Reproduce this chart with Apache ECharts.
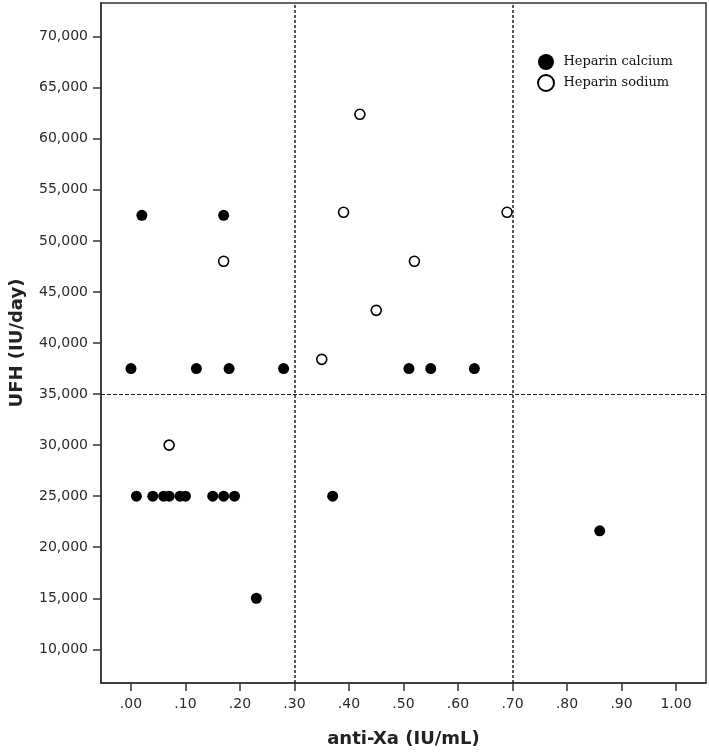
<!DOCTYPE html>
<html>
<head>
<meta charset="utf-8">
<script src="https://cdn.jsdelivr.net/npm/echarts@6/dist/echarts.min.js"></script>
<style>
  html, body { margin: 0; padding: 0; background: #fff; }
  #chart { width: 709px; height: 754px; }
</style>
</head>
<body>
<div id="chart"></div>
<script>
// anti-Xa (IU/mL) vs UFH dose (IU/day)
const calciumX = [0.00, 0.02, 0.17, 0.12, 0.18, 0.28, 0.51, 0.55, 0.63,
  0.01, 0.04, 0.06, 0.07, 0.09, 0.10, 0.15, 0.17, 0.19, 0.37, 0.23, 0.86]
const calciumY = [37500, 52500, 52500, 37500, 37500, 37500, 37500, 37500, 37500,
  25000, 25000, 25000, 25000, 25000, 25000, 25000, 25000, 25000, 25000, 15000, 21600]

const sodiumX = [0.42, 0.39, 0.69, 0.17, 0.52, 0.45, 0.35, 0.07]
const sodiumY = [62400, 52800, 52800, 48000, 48000, 43200, 38400, 30000]

const xTicks = [0, 0.1, 0.2, 0.3, 0.4, 0.5, 0.6, 0.7, 0.8, 0.9, 1.0]
const yTicks = [10000, 15000, 20000, 25000, 30000, 35000, 40000, 45000, 50000, 55000, 60000, 65000, 70000]

// cut-off reference lines
const xCuts = [0.3, 0.7]
const yCuts = [35000]

const zip = (xs, ys) => xs.map((x, i) => [x, ys[i]])

const fmtX = (v) => {
  const n = Math.round(v * 100)
  return n >= 100 ? (n / 100).toFixed(2) : '.' + String(n).padStart(2, '0')
}

const axisColor = '#333'
const tickFont = { fontFamily: 'DejaVu Sans', fontSize: 14, color: '#2a2a2a' }
const nameFont = { fontFamily: 'DejaVu Sans', fontSize: 18, fontWeight: 'bold', color: '#222' }

const chart = echarts.init(document.getElementById('chart'))

chart.setOption({
  animation: false,
  backgroundColor: '#fff',
  grid: {
    left: 101, right: 3, top: 3, bottom: 71,
    show: true, borderColor: axisColor, borderWidth: 1.5,
  },
  legend: {
    orient: 'vertical',
    left: 532,
    top: 49,
    itemWidth: 25,
    itemHeight: 16,
    itemGap: 4,
    textStyle: { fontFamily: 'DejaVu Serif', fontSize: 13, color: '#111' },
    data: ['Heparin calcium', 'Heparin sodium'],
  },
  xAxis: {
    type: 'value',
    min: -0.055,
    max: 1.055,
    name: 'anti-Xa (IU/mL)',
    nameLocation: 'middle',
    nameGap: 47,
    nameTextStyle: nameFont,
    splitLine: { show: false },
    axisLine: { onZero: false, lineStyle: { color: axisColor, width: 1.5 } },
    axisTick: { customValues: xTicks, length: 8, lineStyle: { color: axisColor, width: 1.5 } },
    axisLabel: { customValues: xTicks, margin: 14, formatter: fmtX, ...tickFont },
  },
  yAxis: {
    type: 'value',
    min: 6700,
    max: 73300,
    name: 'UFH (IU/day)',
    nameLocation: 'middle',
    nameGap: 75,
    nameTextStyle: nameFont,
    splitLine: { show: false },
    axisLine: { show: true, onZero: false, lineStyle: { color: axisColor, width: 1.5 } },
    axisTick: { show: true, customValues: yTicks, length: 8, lineStyle: { color: axisColor, width: 1.5 } },
    axisLabel: {
      customValues: yTicks, margin: 13,
      formatter: (v) => v.toLocaleString('en-US'),
      ...tickFont,
    },
  },
  series: [
    {
      name: 'Heparin calcium',
      type: 'scatter',
      data: zip(calciumX, calciumY),
      symbol: 'circle',
      symbolSize: 11,
      itemStyle: { color: '#000', opacity: 1 },
      z: 3,
      markLine: {
        silent: true,
        symbol: 'none',
        label: { show: false },
        data: [
          ...xCuts.map((x) => ({ xAxis: x, lineStyle: { type: [3, 2], color: '#222', width: 1.5 } })),
          ...yCuts.map((y) => ({ yAxis: y, lineStyle: { type: [4, 2], color: '#222', width: 1.2 } })),
        ],
      },
    },
    {
      name: 'Heparin sodium',
      type: 'scatter',
      data: zip(sodiumX, sodiumY),
      symbol: 'circle',
      symbolSize: 10,
      itemStyle: { color: '#fff', borderColor: '#000', borderWidth: 1.6, opacity: 1 },
      z: 3,
    },
  ],
})
</script>
</body>
</html>
